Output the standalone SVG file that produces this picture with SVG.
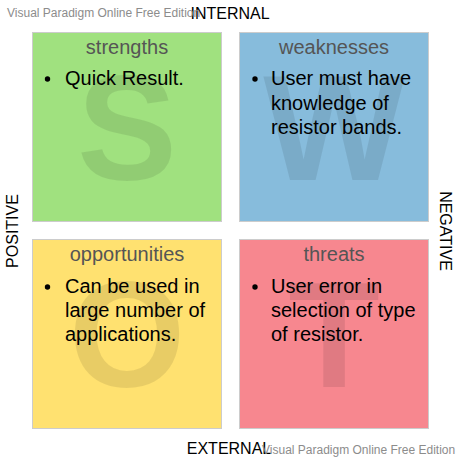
<svg xmlns="http://www.w3.org/2000/svg" width="461" height="461" viewBox="0 0 461 461">
<style>
.box{stroke:#cccccc;stroke-width:1}
.big{font-family:"Liberation Sans",Arial,sans-serif;font-size:150px;font-weight:bold;fill:#000;fill-opacity:0.09;text-anchor:middle}
.title{font-family:"Liberation Sans",Arial,sans-serif;font-size:20px;fill:#555555;text-anchor:middle}
.item{font-family:"Liberation Sans",Arial,sans-serif;font-size:20px;fill:#000000}
.axis{font-family:"Liberation Sans",Arial,sans-serif;font-size:16px;fill:#000000;text-anchor:middle}
.wm{font-family:"Liberation Sans",Arial,sans-serif;font-size:12px;fill:#8c8c8c}
</style>
<rect width="461" height="461" fill="#ffffff"/>
<g id="strengths">
<rect class="box" x="32.5" y="32.5" width="189" height="189" fill="#a0e17f"/>
<text class="big" x="127" y="180">S</text>
<text class="title" x="127" y="54">strengths</text>
<circle cx="47.5" cy="79" r="2.7"/>
<text class="item" x="65" y="85">Quick Result.</text>
</g>
<g id="weaknesses">
<rect class="box" x="239.5" y="32.5" width="189" height="189" fill="#87bcdc"/>
<text class="big" x="334" y="180">W</text>
<text class="title" x="334" y="54">weaknesses</text>
<circle cx="255" cy="79" r="2.7"/>
<text class="item" x="271" y="85"><tspan x="271">User must have</tspan><tspan x="271" dy="24.5">knowledge of</tspan><tspan x="271" dy="24.5">resistor bands.</tspan></text>
</g>
<g id="opportunities">
<rect class="box" x="32.5" y="239.5" width="189" height="189" fill="#ffe170"/>
<text class="big" x="127" y="387">O</text>
<text class="title" x="127" y="261">opportunities</text>
<circle cx="47.5" cy="287" r="2.7"/>
<text class="item" x="65" y="293"><tspan x="65">Can be used in</tspan><tspan x="65" dy="24">large number of</tspan><tspan x="65" dy="24">applications.</tspan></text>
</g>
<g id="threats">
<rect class="box" x="239.5" y="239.5" width="189" height="189" fill="#f7878f"/>
<text class="big" x="334" y="387">T</text>
<text class="title" x="334" y="261">threats</text>
<circle cx="255" cy="287" r="2.7"/>
<text class="item" x="271" y="293"><tspan x="271">User error in</tspan><tspan x="271" dy="24">selection of type</tspan><tspan x="271" dy="24">of resistor.</tspan></text>
</g>
<g id="axes">
<text class="axis" x="230" y="18.5">INTERNAL</text>
<text class="axis" x="229" y="454">EXTERNAL</text>
<text class="axis" transform="translate(17.5,231) rotate(-90)">POSITIVE</text>
<text class="axis" transform="translate(440,231) rotate(90)">NEGATIVE</text>
</g>
<g id="watermarks">
<text class="wm" x="7" y="17">Visual Paradigm Online Free Edition</text>
<text class="wm" x="262" y="454">Visual Paradigm Online Free Edition</text>
</g>
<g id="connectors"/>
</svg>
